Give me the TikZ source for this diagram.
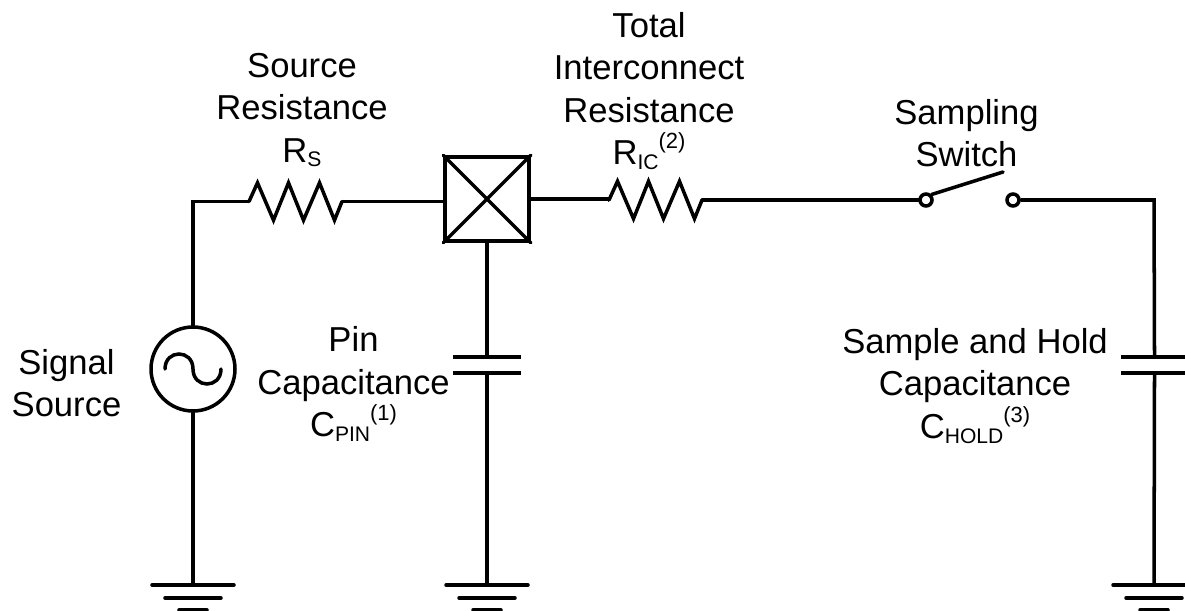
\documentclass[tikz,border=0pt]{standalone}
\usepackage{fontspec}
\setmainfont{Liberation Sans}
\usetikzlibrary{calc}
\newcommand{\subtxt}[1]{\raisebox{-2.8pt}{\fontsize{12}{12}\selectfont #1}}
\newcommand{\suptxt}[1]{\raisebox{9pt}{\fontsize{12.5}{12.5}\selectfont #1}}
\tikzset{
    gndsym/.pic={\draw[wire] (-41,0)--(41,0) (-28,13)--(28,13) (-14,25)--(14,25);},
    ressym/.pic={\draw[wire,line join=miter] (-46.5,0)--(-38,-18.7)--(-22,18.7)--(-7,-18.7)--(8,18.7)--(24,-18.7)--(39,18.7)--(46.5,0);}
}
\begin{document}
\begin{tikzpicture}[x=0.02cm,y=-0.02cm,
    wire/.style={draw=black,line width=2pt,line cap=round},
    label/.style={font=\fontsize{19.7}{24.2}\selectfont,align=center,inner sep=0pt},
    plate/.style={fill=black,minimum width=1.36cm,minimum height=2pt,inner sep=0pt},
    anchorbox/.style={minimum width=1.86cm,minimum height=0.1cm,inner sep=0pt},
    pinbox/.style={wire,minimum width=1.68cm,minimum height=1.68cm,inner sep=0pt},
    contact/.style={wire,circle,minimum size=0.24cm,inner sep=0pt}]
    \clip (0,0) rectangle (1185,611);
    \node[wire,circle,minimum size=1.68cm,inner sep=0pt] (src) at (193,369) {};
    \draw[wire,shift={(src.center)}] (-28,0) .. controls (-28,-20) and (0,-20) .. (0,0)
        .. controls (0,20) and (28,20) .. (28,0);
    \node[anchorbox] (rs) at (295.5,201.5) {};
    \pic at (rs) {ressym};
    \node[pinbox,draw] (pin) at (487,199) {};
    \draw[wire] (pin.north west)--(pin.south east) (pin.north east)--(pin.south west);
    \node[anchorbox] (ric) at (655.5,200) {};
    \pic at (ric) {ressym};
    \node[contact,draw] (swa) at (926,200) {};
    \node[contact,draw] (swb) at (1013,200) {};
    \coordinate (swtip) at (1003,172);
    \coordinate (hold) at (1154,200);
    \node[plate] (cpa) at (487,357) {};
    \node[plate] (cpb) at (487,373) {};
    \node[plate] (cha) at (1154.5,357) {};
    \node[plate] (chb) at (1154.5,373) {};
    \foreach \gname/\x in {gsrc/193,gpin/487,ghold/1154}
      {\coordinate (\gname) at (\x,585);
       \pic at (\gname) {gndsym};}
    \draw[wire] (src.north) |- (rs.west);
    \draw[wire] (rs.east) -- (rs.east -| pin.west);
    \draw[wire] (pin.east) -- (pin.east -| ric.west) -- (ric.west);
    \draw[wire] (ric.east) -- (swa.west);
    \draw[wire] (swa.north east) -- (swtip);
    \draw[wire] (swb.east) -- (hold) -- (cha.north);
    \draw[wire] (pin.south) -- (cpa.north);
    \draw[wire] (cpb.south) -- (gpin);
    \draw[wire] (chb.south) -- (ghold);
    \draw[wire] (src.south) -- (gsrc);
    \node[label] (lblrs) at (302,110) {Source\\Resistance\\R\subtxt{S}};
    \node[label] (lblric) at (649,91) {Total\\Interconnect\\Resistance\\R\subtxt{IC}\suptxt{(2)}};
    \node[label] (lblsw) at (966.5,133) {Sampling\\Switch};
    \node[label] (lblsrc) at (66.5,383) {Signal\\Source};
    \node[label] (lblpin) at (353.5,384) {Pin\\Capacitance\\C\subtxt{PIN}\suptxt{(1)}};
    \node[label] (lblhold) at (975,386) {Sample and Hold\\Capacitance\\C\subtxt{HOLD}\suptxt{(3)}};
\end{tikzpicture}
\end{document}
